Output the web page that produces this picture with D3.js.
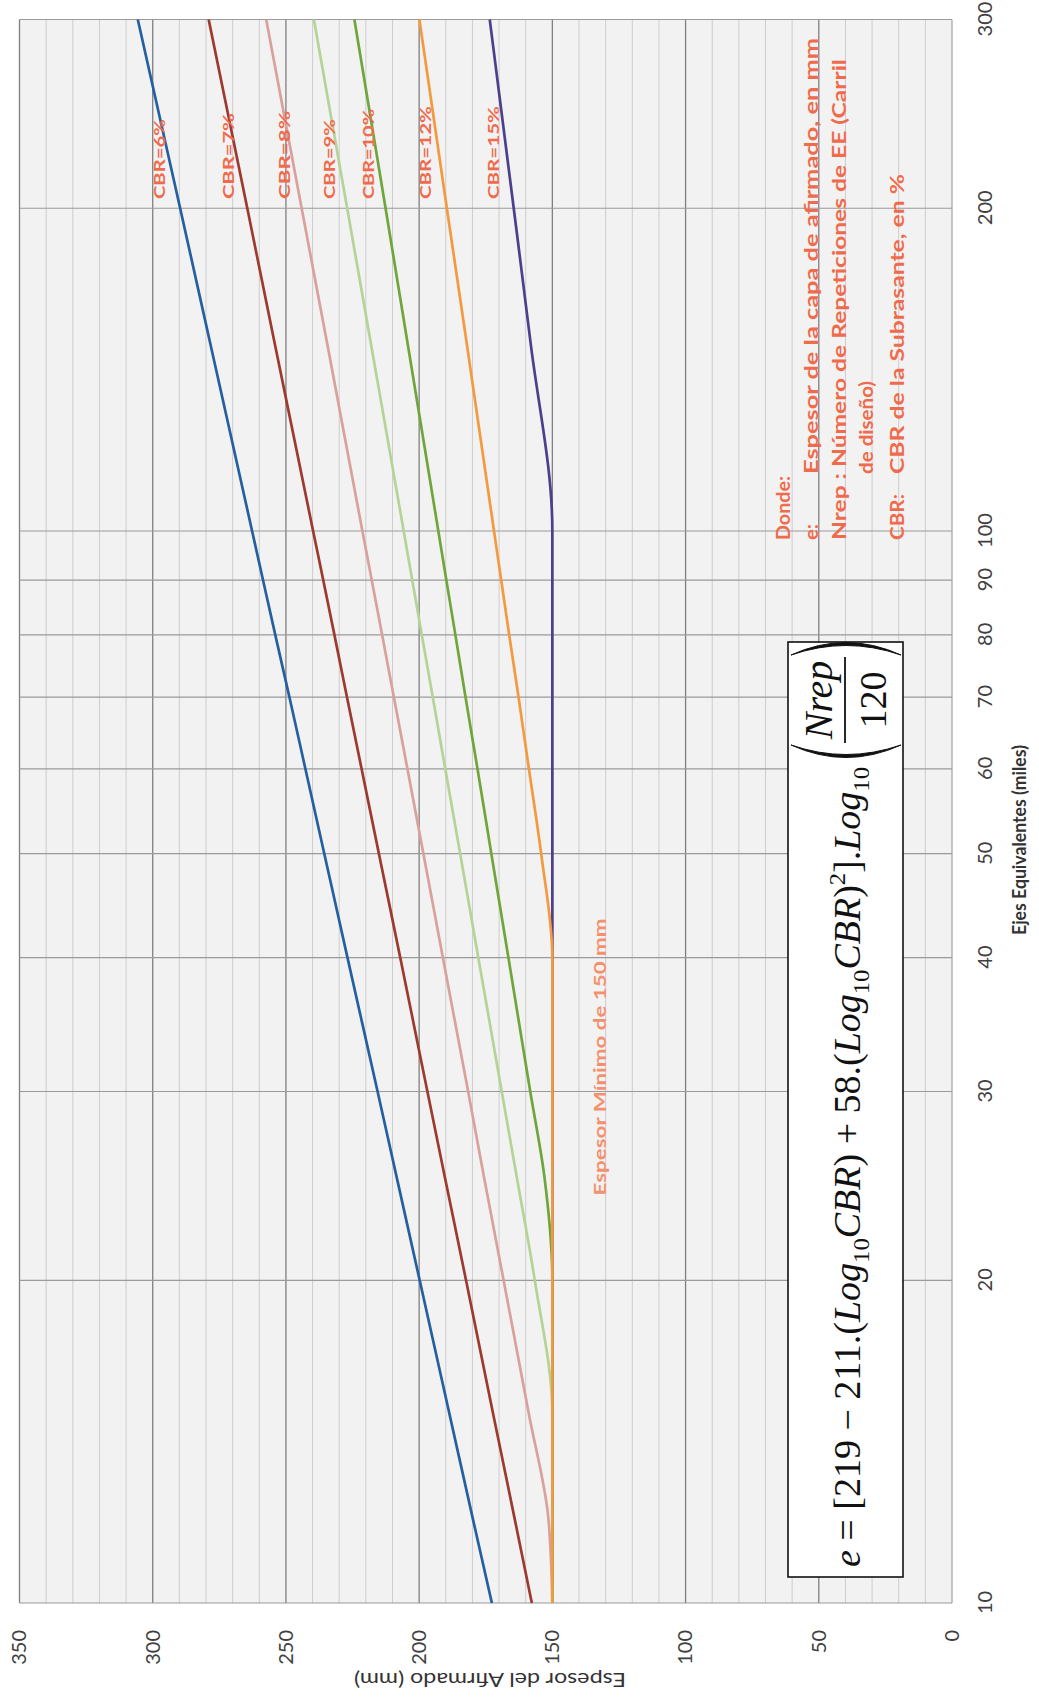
<!DOCTYPE html>
<html>
<head>
<meta charset="utf-8">
<script src="https://cdn.jsdelivr.net/npm/d3@7"></script>
<style>
  html, body { margin: 0; padding: 0; background: #fff; }
  svg { display: block; }
  text { font-family: Lato, "Open Sans", sans-serif; }
</style>
</head>
<body>
<svg id="chart" width="1039" height="1700"></svg>
<script>
const ejes = [10, 12, 15, 20, 25, 30, 40, 50, 60, 70, 80, 90, 100, 150, 200, 300];

// Espesor del afirmado (mm) for each CBR
const cbr6  = [172.7, 179.9, 188.6, 199.8, 208.5, 215.6, 226.9, 235.6, 242.7, 248.7, 254.0, 258.6, 262.7, 278.5, 289.7, 305.6];
const cbr7  = [157.7, 164.2, 172.2, 182.4, 190.4, 196.9, 207.1, 215.1, 221.6, 227.1, 231.8, 236.0, 239.8, 254.3, 264.5, 279.0];
const cbr8  = [150.0, 151.5, 158.8, 168.3, 175.7, 181.6, 191.1, 198.4, 204.4, 209.5, 213.9, 217.8, 221.3, 234.6, 244.1, 257.4];
const cbr9  = [150.0, 150.0, 150.0, 156.6, 163.4, 169.0, 177.8, 184.6, 190.2, 194.9, 199.0, 202.6, 205.8, 218.2, 227.0, 239.5];
const cbr10 = [150.0, 150.0, 150.0, 150.0, 153.0, 158.3, 166.5, 172.9, 178.1, 182.6, 186.4, 189.8, 192.8, 204.4, 212.6, 224.3];
const cbr12 = [150.0, 150.0, 150.0, 150.0, 150.0, 150.0, 150.0, 154.2, 158.8, 162.7, 166.2, 169.2, 171.9, 182.2, 189.6, 199.9];
const cbr15 = [150.0, 150.0, 150.0, 150.0, 150.0, 150.0, 150.0, 150.0, 150.0, 150.0, 150.0, 150.0, 150.0, 158.2, 164.5, 173.5];

const cbrNames = ["CBR=6%", "CBR=7%", "CBR=8%", "CBR=9%", "CBR=10%", "CBR=12%", "CBR=15%"];
// where the CBR labels sit (ejes, espesor)
const labelEjes = 204;
const labelEspesor = [295.5, 269.5, 248.5, 231.5, 216.8, 195.5, 170];
const labelLen = [80, 86, 88, 80, 90, 93, 93];

const xTicks = [10, 20, 30, 40, 50, 60, 70, 80, 90, 100, 200, 300];
const yTicks = [0, 50, 100, 150, 200, 250, 300, 350];

const colors = ["#24609f", "#9c3a30", "#d9a19b", "#b4d496", "#6fa63c", "#f39a3f", "#4c3f8b"];
const seriesValues = [cbr6, cbr7, cbr8, cbr9, cbr10, cbr12, cbr15];

let series = cbrNames.map((name, i) => ({name: name, values: seriesValues[i], color: colors[i]}));
// purple underneath, orange on top along the 150 mm floor
let drawOrder = [6, 0, 1, 2, 3, 4, 5];

// The chart is drawn normally (1700 wide, 1039 high) and then turned 90deg counter-clockwise
const W = 1700, H = 1039;
const plot = {left: 97, right: 1680.5, top: 19.5, bottom: 952};
const red = "#f06a4c";

let svg = d3.select("#chart");
let g = svg.append("g").attr("transform", "translate(0," + W + ") rotate(-90)");

let x = d3.scaleLog().domain([10, 300]).range([plot.left, plot.right]);
let y = d3.scaleLinear().domain([0, 350]).range([plot.bottom, plot.top]);

// plot background
g.append("rect")
    .attr("x", plot.left).attr("y", plot.top)
    .attr("width", plot.right - plot.left).attr("height", plot.bottom - plot.top)
    .attr("fill", "#f2f2f2");

// horizontal grid (every 10 mm, darker every 50)
g.append("g").selectAll("line")
    .data(d3.range(0, 351, 10))
    .enter().append("line")
    .attr("x1", plot.left).attr("x2", plot.right)
    .attr("y1", d => y(d)).attr("y2", d => y(d))
    .attr("stroke", d => d === 0 ? "#a8a8a8" : (d % 50 === 0 ? "#7f7f7f" : "#cdcdcd"))
    .attr("stroke-width", d => d % 50 === 0 ? 1.3 : 1);

// vertical grid on the log ticks
g.append("g").selectAll("line")
    .data(xTicks)
    .enter().append("line")
    .attr("x1", d => x(d)).attr("x2", d => x(d))
    .attr("y1", plot.top).attr("y2", plot.bottom)
    .attr("stroke", "#9a9a9a")
    .attr("stroke-width", 1.2);

// axes
let yAxis = g.append("g")
    .attr("transform", "translate(" + plot.left + ",0)")
    .call(d3.axisLeft(y).tickValues(yTicks).tickSize(0).tickPadding(27));
let xAxis = g.append("g")
    .attr("transform", "translate(0," + plot.bottom + ")")
    .call(d3.axisBottom(x).tickValues(xTicks).tickFormat(d3.format("d")).tickSize(0).tickPadding(26));
[yAxis, xAxis].forEach(a => {
    a.select(".domain").remove();
    a.selectAll("text")
        .style("font-family", "Lato, sans-serif")
        .style("font-size", "20px")
        .attr("fill", "#404040");
});

g.append("text")
    .attr("transform", "translate(27,490) rotate(-90)")
    .attr("text-anchor", "middle")
    .attr("textLength", 272).attr("lengthAdjust", "spacingAndGlyphs")
    .attr("fill", "#333")
    .style("font-size", "20px")
    .text("Espesor del Afirmado (mm)");

g.append("text")
    .attr("x", 765).attr("y", 1026)
    .attr("textLength", 190).attr("lengthAdjust", "spacingAndGlyphs")
    .attr("fill", "#333")
    .style("font-size", "19px").style("font-weight", "bold")
    .text("Ejes Equivalentes (miles)");

// curves
let line = d3.line()
    .x((d, i) => x(ejes[i]))
    .y(d => y(d))
    .curve(d3.curveMonotoneX);

g.append("g").selectAll("path")
    .data(drawOrder.map(i => series[i]))
    .enter().append("path")
    .attr("d", d => line(d.values))
    .attr("fill", "none")
    .attr("stroke", d => d.color)
    .attr("stroke-width", 2.7);

// CBR labels
g.append("g").selectAll("text")
    .data(cbrNames)
    .enter().append("text")
    .attr("x", x(labelEjes))
    .attr("y", (d, i) => y(labelEspesor[i]))
    .attr("textLength", (d, i) => labelLen[i])
    .attr("lengthAdjust", "spacingAndGlyphs")
    .attr("fill", red)
    .style("font-size", "16px").style("font-weight", "bold")
    .text(d => d);

g.append("text")
    .attr("x", x(24)).attr("y", y(130))
    .attr("textLength", 277).attr("lengthAdjust", "spacingAndGlyphs")
    .attr("fill", "#f5906f")
    .style("font-size", "17px").style("font-weight", "bold")
    .text("Espesor Mínimo de 150 mm");

// "Donde" notes
let notes = [
    {u: 1160, v: 790, len: 64, t: "Donde:"},
    {u: 1160, v: 818, len: 16, t: "e:"},
    {u: 1226, v: 818, len: 436, t: "Espesor de la capa de afirmado, en mm"},
    {u: 1160, v: 846, len: 481, t: "Nrep : Número de Repeticiones de EE (Carril"},
    {u: 1226, v: 873, len: 93, t: "de diseño)"},
    {u: 1160, v: 904, len: 46, t: "CBR:"},
    {u: 1226, v: 904, len: 300, t: "CBR de la Subrasante, en %"}
];
g.append("g").selectAll("text")
    .data(notes)
    .enter().append("text")
    .attr("x", d => d.u).attr("y", d => d.v)
    .attr("textLength", d => d.len)
    .attr("lengthAdjust", "spacingAndGlyphs")
    .attr("fill", red)
    .style("font-size", "18px").style("font-weight", "bold")
    .text(d => d.t);

// formula box
let fbox = {u0: 123, u1: 1058, v0: 788, v1: 903};
g.append("rect")
    .attr("x", fbox.u0).attr("y", fbox.v0)
    .attr("width", fbox.u1 - fbox.u0).attr("height", fbox.v1 - fbox.v0)
    .attr("fill", "#fff").attr("stroke", "#111").attr("stroke-width", 1.6);

let ft = g.append("text")
    .attr("x", 133).attr("y", 860)
    .attr("textLength", 800).attr("lengthAdjust", "spacingAndGlyphs")
    .attr("fill", "#111")
    .style("font-family", "'Liberation Serif', 'DejaVu Serif', serif")
    .style("font-size", "37px");
let parts = [
    ["e", "i", 0], [" = [219 − 211.(", "", 0], ["Log", "i", 0], ["10", "s", 9], ["CBR", "i", -9],
    [") + 58.(", "", 0], ["Log", "i", 0], ["10", "s", 9], ["CBR", "i", -9], [")", "", 0],
    ["2", "s", -15], ["].", "", 15], ["Log", "i", 0], ["10", "s", 9]
];
parts.forEach(p => {
    let ts = ft.append("tspan").attr("dy", p[2]).text(p[0]);
    if (p[1] === "i") ts.style("font-style", "italic");
    if (p[1] === "s") ts.style("font-size", "24px");
});

// fraction Nrep / 120 inside big parentheses
g.append("text")
    .attr("x", 1000).attr("y", 832).attr("text-anchor", "middle")
    .attr("fill", "#111")
    .style("font-family", "'Liberation Serif', serif").style("font-size", "40px").style("font-style", "italic")
    .text("Nrep");
g.append("text")
    .attr("x", 1000).attr("y", 886).attr("text-anchor", "middle")
    .attr("fill", "#111")
    .style("font-family", "'Liberation Serif', serif").style("font-size", "38px")
    .text("120");
g.append("line")
    .attr("x1", 957).attr("x2", 1043).attr("y1", 845).attr("y2", 845)
    .attr("stroke", "#111").attr("stroke-width", 1.8);
g.append("path")
    .attr("d", "M955,791 Q930,846 955,901 Q936,846 955,791 Z")
    .attr("fill", "#111").attr("stroke", "#111").attr("stroke-width", 1);
g.append("path")
    .attr("d", "M1045,791 Q1070,846 1045,901 Q1064,846 1045,791 Z")
    .attr("fill", "#111").attr("stroke", "#111").attr("stroke-width", 1);
</script>
</body>
</html>
